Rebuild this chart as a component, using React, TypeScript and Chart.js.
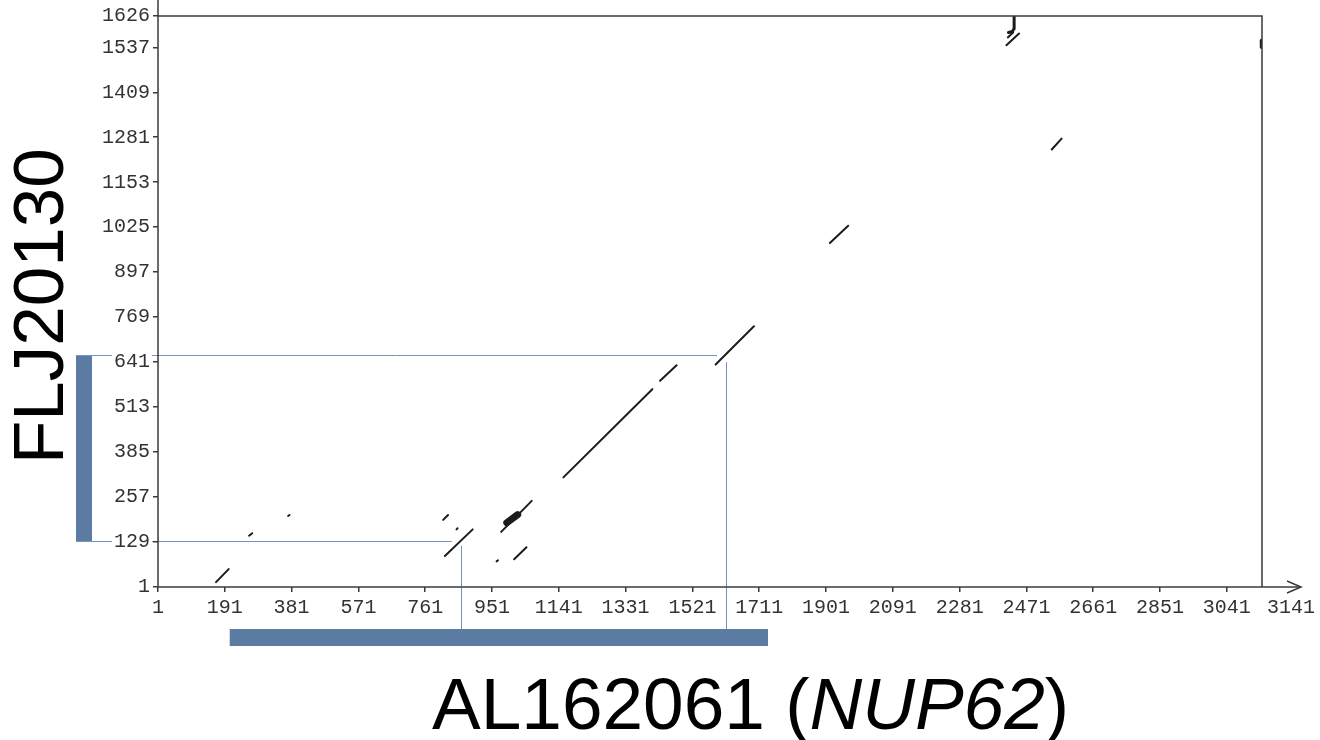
import React, { useEffect, useRef } from "react";
import { Chart, registerables } from "chart.js";

Chart.register(...registerables);

// ---- axis definitions ----
const xTickValues = [1, 191, 381, 571, 761, 951, 1141, 1331, 1521, 1711, 1901, 2091, 2281, 2471, 2661, 2851, 3041];
const xEndLabel = "3141";
const yTickValues = [1, 129, 257, 385, 513, 641, 769, 897, 1025, 1153, 1281, 1409, 1537, 1626];
const xMin = 1;
const xMax = 3141;
const yMin = 1;
const yMax = 1626;
const xTitleMain = "AL162061 (";
const xTitleGene = "NUP62";
const xTitleEnd = ")";
const yTitle = "FLJ20130";

// ---- dot-plot match segments [x1, y1, x2, y2] ----
const thinMatches = [
  [166, 15, 202, 52],
  [260, 147, 269, 154],
  [371, 203, 375, 206],
  [812, 192, 826, 206],
  [850, 165, 853, 168],
  [817, 89, 896, 165],
  [977, 158, 1064, 246],
  [1014, 80, 1049, 114],
  [964, 74, 968, 77],
  [1154, 313, 1407, 564],
  [1429, 588, 1476, 632],
  [1587, 634, 1696, 743],
  [1912, 980, 1964, 1029],
  [2543, 1246, 2571, 1277],
  [2414, 1543, 2450, 1576],
  [2418, 1565, 2433, 1579],
];
const thickMatches = [[993, 184, 1024, 207]];
const hookX = [2436, 2436, 2431, 2420];
const hookY = [1626, 1590, 1582, 1579];
const edgeMarks = [[3139, 1537, 3139, 1557]];

// ---- highlighted alignment region ----
const regionYRange = [132, 661]; // FLJ20130 span (left bar, horizontal guides)
const guideEndX = [837, 1591]; // where horizontal guides stop
const regionXGuides = [863, 1616]; // vertical guides
const guideStartY = [118, 641]; // where vertical guides start
const barXRange = [205, 1736]; // AL162061 span (bottom bar)

const overlayPlugin = {
  id: "overlay",
  beforeDraw(chart: any) {
    const { ctx } = chart;
    const x = chart.scales.x;
    const y = chart.scales.y;
    ctx.save();
    // bars
    ctx.fillStyle = "#5b7ba2";
    const yTop = y.getPixelForValue(regionYRange[1]);
    const yBot = y.getPixelForValue(regionYRange[0]);
    ctx.fillRect(76, yTop, 16, yBot - yTop);
    const bx1 = x.getPixelForValue(barXRange[0]);
    const bx2 = x.getPixelForValue(barXRange[1]);
    ctx.fillRect(bx1, 629, bx2 - bx1, 17);
    // guide lines
    ctx.strokeStyle = "#7393c6";
    ctx.lineWidth = 1;
    for (let i = 0; i < 2; i++) {
      const yy = Math.round(y.getPixelForValue(regionYRange[i])) + 0.5;
      ctx.beginPath();
      ctx.moveTo(76, yy);
      ctx.lineTo(x.getPixelForValue(guideEndX[i]), yy);
      ctx.stroke();
      const xx = Math.round(x.getPixelForValue(regionXGuides[i])) + 0.5;
      ctx.beginPath();
      ctx.moveTo(xx, y.getPixelForValue(guideStartY[i]));
      ctx.lineTo(xx, 629);
      ctx.stroke();
    }
    ctx.restore();
  },
  afterDraw(chart: any) {
    const { ctx, chartArea } = chart;
    const { left, right, top, bottom } = chartArea;
    ctx.save();
    ctx.strokeStyle = "#3a3a3a";
    ctx.lineWidth = 1.5;
    // left axis (extends to top of canvas)
    ctx.beginPath();
    ctx.moveTo(left, 0);
    ctx.lineTo(left, bottom);
    ctx.stroke();
    // top and right frame
    ctx.beginPath();
    ctx.moveTo(left, top);
    ctx.lineTo(right, top);
    ctx.lineTo(right, bottom);
    ctx.stroke();
    // bottom axis with arrow
    const tipX = right + 39;
    ctx.beginPath();
    ctx.moveTo(left, bottom);
    ctx.lineTo(tipX, bottom);
    ctx.stroke();
    ctx.beginPath();
    ctx.moveTo(tipX - 14, bottom - 6);
    ctx.lineTo(tipX, bottom);
    ctx.lineTo(tipX - 14, bottom + 6);
    ctx.stroke();
    // end label of x axis
    ctx.fillStyle = "#333";
    ctx.font = "20px 'Liberation Mono', monospace";
    ctx.textAlign = "center";
    ctx.textBaseline = "top";
    ctx.fillText(xEndLabel, right + 29, bottom + 11);
    // x title
    ctx.fillStyle = "#000";
    ctx.textAlign = "left";
    ctx.textBaseline = "alphabetic";
    let tx = 432;
    const ty = 729;
    ctx.font = "73px 'Liberation Sans', Arial, sans-serif";
    ctx.fillText(xTitleMain, tx, ty);
    tx += ctx.measureText(xTitleMain).width;
    ctx.font = "italic 73px 'Liberation Sans', Arial, sans-serif";
    ctx.fillText(xTitleGene, tx, ty);
    tx += ctx.measureText(xTitleGene).width;
    ctx.font = "73px 'Liberation Sans', Arial, sans-serif";
    ctx.fillText(xTitleEnd, tx, ty);
    // y title
    ctx.translate(63, 464);
    ctx.rotate(-Math.PI / 2);
    ctx.font = "71px 'Liberation Sans', Arial, sans-serif";
    ctx.fillText(yTitle, 0, 0);
    ctx.restore();
  },
};

function seg(points: { x: number; y: number }[], width: number) {
  return {
    data: points,
    showLine: true,
    borderColor: "#1c1c1c",
    backgroundColor: "#1c1c1c",
    borderWidth: width,
    pointRadius: 0,
    borderCapStyle: "round",
    borderJoinStyle: "round",
  };
}

export default function App() {
  const canvasRef = useRef<HTMLCanvasElement | null>(null);

  useEffect(() => {
    if (!canvasRef.current) return;
    const datasets: any[] = [];
    thinMatches.forEach((s) =>
      datasets.push(seg([{ x: s[0], y: s[1] }, { x: s[2], y: s[3] }], 2))
    );
    thickMatches.forEach((s) =>
      datasets.push(seg([{ x: s[0], y: s[1] }, { x: s[2], y: s[3] }], 7))
    );
    datasets.push(seg(hookX.map((v, i) => ({ x: v, y: hookY[i] })), 3));
    edgeMarks.forEach((s) =>
      datasets.push(seg([{ x: s[0], y: s[1] }, { x: s[2], y: s[3] }], 3))
    );

    const tickFont = { family: "'Liberation Mono', monospace", size: 20 };
    const chart = new Chart(canvasRef.current, {
      type: "scatter",
      data: { datasets },
      options: {
        animation: false,
        responsive: true,
        maintainAspectRatio: false,
        devicePixelRatio: 1,
        layout: { padding: { left: 0, right: 58, top: 16, bottom: 0 } },
        plugins: { legend: { display: false }, tooltip: { enabled: false } },
        elements: { line: { tension: 0 } },
        scales: {
          x: {
            type: "linear",
            min: xMin,
            max: xMax,
            afterBuildTicks: (s: any) => {
              s.ticks = xTickValues.map((v) => ({ value: v }));
            },
            afterFit: (s: any) => {
              s.height = 153;
            },
            grid: { drawOnChartArea: false, tickLength: 5, color: "#3a3a3a", lineWidth: 1.5 },
            border: { display: false },
            ticks: {
              font: tickFont,
              color: "#333",
              padding: 4,
              maxRotation: 0,
              autoSkip: false,
              callback: (v: any) => String(v),
            },
          },
          y: {
            type: "linear",
            min: yMin,
            max: yMax,
            afterBuildTicks: (s: any) => {
              s.ticks = yTickValues.map((v) => ({ value: v }));
            },
            afterFit: (s: any) => {
              s.width = 158;
            },
            grid: { drawOnChartArea: false, tickLength: 5, color: "#3a3a3a", lineWidth: 1.5 },
            border: { display: false },
            ticks: {
              font: tickFont,
              color: "#333",
              padding: 3,
              autoSkip: false,
              showLabelBackdrop: true,
              backdropColor: "#ffffff",
              backdropPadding: 2,
              callback: (v: any) => String(v),
            },
          },
        },
      } as any,
      plugins: [overlayPlugin],
    });
    return () => chart.destroy();
  }, []);

  return (
    <div style={{ position: "absolute", left: 0, top: 0, width: 1320, height: 740, background: "#fff" }}>
      <canvas ref={canvasRef} />
    </div>
  );
}
